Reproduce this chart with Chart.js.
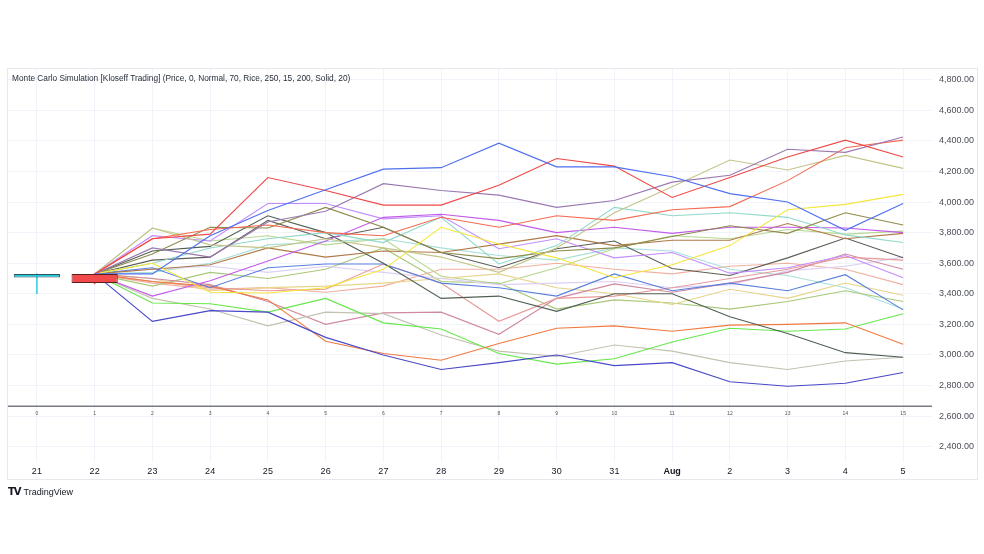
<!DOCTYPE html>
<html>
<head>
<meta charset="utf-8">
<script src="https://cdn.jsdelivr.net/npm/chart.js@4/dist/chart.umd.min.js"></script>
<style>
    html, body { margin: 0; padding: 0; background: #ffffff; }
    #wrap { position: relative; width: 984px; height: 554px; overflow: hidden; }
    #frame { position: absolute; left: 7px; top: 68px; width: 969px; height: 410px; border: 1px solid #e6e8ee; }
    #title { position: absolute; left: 12px; top: 73px; font: 8.3px "Liberation Sans", Arial, sans-serif; color: #2a2e39; white-space: nowrap; }
    #logo { position: absolute; left: 8px; top: 486px; font: 9px "Liberation Sans", Arial, sans-serif; color: #131722; white-space: nowrap; }
    #logo b { font: 900 10px "DejaVu Sans", sans-serif; letter-spacing: -1px; margin-right: 3px; }
    canvas { position: absolute; left: 0; top: 0; }
</style>
</head>
<body>
<div id="wrap">
    <div id="frame"></div>
    <canvas id="chart" width="984" height="554"></canvas>
    <div id="title">Monte Carlo Simulation [Kloseff Trading] (Price, 0, Normal, 70, Rice, 250, 15, 200, Solid, 20)</div>
    <div id="logo"><b>TV</b>TradingView</div>
</div>
<script>
    // Time axis (one bar per day) and the simulation step numbers under the paths
    var DATES = ['21', '22', '23', '24', '25', '26', '27', '28', '29', '30', '31', 'Aug', '2', '3', '4', '5'];
    var STEPS = ['0', '1', '2', '3', '4', '5', '6', '7', '8', '9', '10', '11', '12', '13', '14', '15'];
    var Y_TICKS = [2400, 2600, 2800, 3000, 3200, 3400, 3600, 3800, 4000, 4200, 4400, 4600, 4800];

    // The two real candles on the left
    var CANDLE_OPEN = [3530, 3530];
    var CANDLE_CLOSE = [3506, 3470];
    var CANDLE_HIGH = [3530, 3530];
    var CANDLE_LOW = [3400, 3465];

    // Simulated paths, steps 1..15 (step 0 has no value)
    var PATHS = [
        [3530, 3530, 3780, 3945, 4080, 4215, 4225, 4385, 4230, 4230, 4165, 4055, 4000, 3815, 3990],
        [3530, 3760, 3790, 4160, 4075, 3980, 3980, 4110, 4285, 4235, 4030, 4160, 4295, 4405, 4295],
        [3530, 3700, 3640, 3870, 3940, 4120, 4075, 4045, 3965, 4010, 4130, 4175, 4345, 4325, 4425],
        [3530, 3760, 3820, 3850, 3800, 3780, 3900, 3835, 3910, 3880, 3950, 3970, 4140, 4355, 4405],
        [3530, 3830, 3720, 3700, 3760, 3700, 3640, 3540, 3700, 3930, 4100, 4275, 4210, 4305, 4220],
        [3530, 3600, 3410, 3405, 3440, 3560, 3835, 3725, 3635, 3505, 3590, 3715, 3950, 3985, 4050],
        [3530, 3660, 3835, 3830, 3965, 3835, 3670, 3630, 3680, 3700, 3775, 3845, 3795, 3930, 3850],
        [3530, 3600, 3700, 3760, 3800, 3735, 3900, 3595, 3715, 3965, 3910, 3930, 3900, 3785, 3735],
        [3530, 3385, 3485, 3615, 3745, 3900, 3920, 3880, 3800, 3835, 3795, 3835, 3835, 3830, 3800],
        [3530, 3780, 3745, 3990, 3990, 3890, 3910, 3695, 3760, 3635, 3670, 3535, 3570, 3650, 3505],
        [3530, 3560, 3590, 3700, 3640, 3680, 3670, 3725, 3780, 3715, 3750, 3750, 3860, 3760, 3795],
        [3530, 3680, 3710, 3910, 3800, 3600, 3370, 3385, 3285, 3400, 3400, 3250, 3140, 3015, 2985],
        [3530, 3620, 3640, 3880, 3760, 3835, 3670, 3570, 3695, 3745, 3565, 3520, 3635, 3765, 3635],
        [3530, 3570, 3440, 3570, 3595, 3595, 3470, 3440, 3385, 3530, 3420, 3470, 3420, 3525, 3295],
        [3530, 3220, 3290, 3280, 3115, 3000, 2905, 2950, 3000, 2930, 2950, 2825, 2795, 2815, 2885],
        [3530, 3480, 3450, 3360, 3090, 3010, 2965, 3075, 3175, 3190, 3155, 3195, 3200, 3210, 3070],
        [3530, 3340, 3335, 3280, 3370, 3210, 3170, 3010, 2940, 2975, 3085, 3175, 3155, 3170, 3270],
        [3530, 3370, 3300, 3190, 3280, 3270, 3130, 3025, 2990, 3065, 3025, 2950, 2905, 2960, 2985],
        [3530, 3480, 3440, 3420, 3430, 3595, 3470, 3220, 3370, 3385, 3440, 3500, 3560, 3640, 3620],
        [3530, 3500, 3460, 3350, 3200, 3275, 3280, 3135, 3370, 3465, 3410, 3470, 3540, 3660, 3560],
        [3530, 3560, 3580, 3540, 3580, 3540, 3500, 3460, 3470, 3480, 3440, 3460, 3550, 3580, 3640],
        [3530, 3500, 3420, 3440, 3450, 3470, 3500, 3530, 3440, 3400, 3330, 3430, 3370, 3470, 3390],
        [3530, 3450, 3540, 3500, 3560, 3700, 3480, 3470, 3300, 3360, 3340, 3300, 3350, 3420, 3350],
        [3530, 3830, 3745, 3780, 3720, 3760, 3515, 3465, 3570, 3695, 3780, 3760, 3820, 3790, 3810],
        [3530, 3540, 3600, 3720, 3740, 3760, 3700, 3650, 3620, 3700, 3680, 3560, 3520, 3440, 3300],
        [3530, 3470, 3430, 3440, 3410, 3450, 3560, 3560, 3600, 3560, 3530, 3580, 3600, 3560, 3460]
    ];

    // Levels used by the step strip at the bottom of the pane
    var SEPARATOR_LEVEL = 2665;
    var STEP_LABEL_LEVEL = 2615;

    var PATH_COLORS = [
        '#4f6ff0', '#f04848', '#9a78b0', '#f56a50', '#c4c48a', '#f5e63a', '#8e8a4a', '#8fd9c8',
        '#c35ae8', '#c08cff', '#b07a48', '#4f5f52', '#5d5d55', '#5a80dd', '#4848c8', '#f07a40',
        '#66e84a', '#c2c2b0', '#e89a9a', '#d08aa0', '#dccff5', '#e8d48a', '#a8c878', '#b8d890',
        '#a8e0d8', '#f0b0a0'
    ];

    // Candle bodies and wicks as floating bars
    var bodies = CANDLE_OPEN.map(function (o, i) { return [o, CANDLE_CLOSE[i]]; });
    var wicks = CANDLE_HIGH.map(function (h, i) { return [CANDLE_LOW[i], h]; });

    var datasets = [
        {
            type: 'bar',
            data: bodies,
            backgroundColor: ['#22c8dc', '#f24a4a'],
            borderColor: ['#2b5560', '#5a2020'],
            borderWidth: 1,
            borderSkipped: false,
            grouped: false,
            barPercentage: 0.8,
            categoryPercentage: 1,
            order: 0
        },
        {
            type: 'bar',
            data: wicks,
            backgroundColor: ['#3fd0e0', '#f24a4a'],
            barThickness: 1,
            grouped: false,
            order: 1
        }
    ];

    PATHS.forEach(function (path, i) {
        datasets.push({
            type: 'line',
            data: [null].concat(path),
            borderColor: PATH_COLORS[i],
            borderWidth: 1.1,
            pointRadius: 0,
            tension: 0,
            order: 2
        });
    });

    // Draws the step strip: a dark separator and the tiny step numbers
    var stepStrip = {
        id: 'stepStrip',
        afterDatasetsDraw: function (chart) {
            var ctx = chart.ctx;
            var xs = chart.scales.x;
            var ys = chart.scales.y;
            var area = chart.chartArea;
            var sy = ys.getPixelForValue(SEPARATOR_LEVEL);
            ctx.save();
            ctx.strokeStyle = '#787b86';
            ctx.lineWidth = 1.5;
            ctx.beginPath();
            ctx.moveTo(area.left, sy);
            ctx.lineTo(area.right, sy);
            ctx.stroke();
            ctx.font = '5px "Liberation Sans", Arial, sans-serif';
            ctx.fillStyle = '#555';
            ctx.textAlign = 'center';
            ctx.textBaseline = 'middle';
            STEPS.forEach(function (s, i) {
                ctx.fillText(s, xs.getPixelForValue(i), ys.getPixelForValue(STEP_LABEL_LEVEL));
            });
            ctx.restore();
        }
    };

    new Chart(document.getElementById('chart'), {
        type: 'line',
        data: { labels: DATES, datasets: datasets },
        plugins: [stepStrip],
        options: {
            responsive: false,
            animation: false,
            layout: { padding: { left: 8, top: 69, right: 7, bottom: 75 } },
            plugins: { legend: { display: false }, tooltip: { enabled: false } },
            scales: {
                x: {
                    offset: true,
                    afterFit: function (axis) { axis.height = 17; },
                    grid: { color: '#f0f3fa', drawTicks: false, offset: false },
                    border: { display: false },
                    ticks: {
                        padding: 4,
                        maxRotation: 0,
                        autoSkip: false,
                        color: '#131722',
                        font: function (c) {
                            return {
                                family: '"Liberation Sans", Arial, sans-serif',
                                size: 9,
                                weight: c.tick && c.tick.label === 'Aug' ? 'bold' : 'normal'
                            };
                        }
                    }
                },
                y: {
                    position: 'right',
                    min: 2300,
                    max: 4870,
                    afterFit: function (axis) { axis.width = 45; },
                    afterBuildTicks: function (axis) {
                        axis.ticks = Y_TICKS.map(function (v) { return { value: v }; });
                    },
                    grid: { color: '#f0f3fa', drawTicks: false },
                    border: { display: false },
                    ticks: {
                        padding: 7,
                        color: '#4a4d57',
                        font: { family: '"Liberation Sans", Arial, sans-serif', size: 9 },
                        callback: function (v) {
                            return v.toLocaleString('en-US', { minimumFractionDigits: 2, maximumFractionDigits: 2 });
                        }
                    }
                }
            }
        }
    });
</script>
</body>
</html>
